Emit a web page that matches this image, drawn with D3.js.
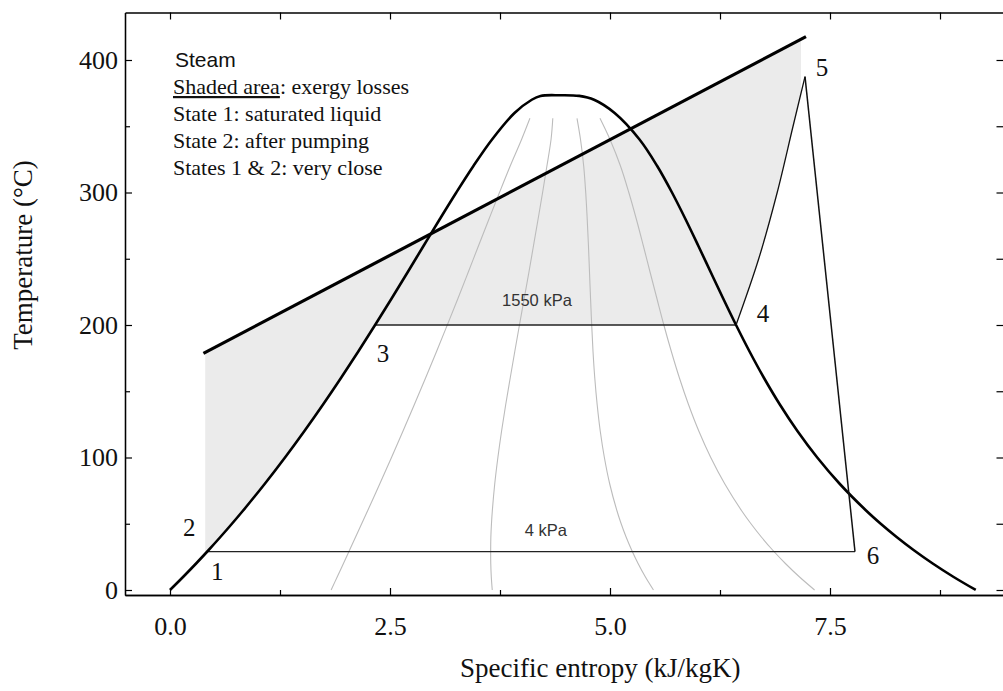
<!DOCTYPE html>
<html><head><meta charset="utf-8">
<script src="https://cdn.jsdelivr.net/npm/d3@7"></script>
<style>
html,body{margin:0;padding:0;background:#fff;}
svg{display:block;}
</style></head><body>
<svg id="chart" width="1003" height="691"></svg>
<script>
// Saturation table of water: temperature (°C), entropy of liquid and vapour (kJ/kgK)
const satT       = [0.01, 10, 20, 30, 40, 50, 60, 80, 100, 120, 140, 160, 180, 200, 220, 240, 260, 280, 300, 320, 340, 360, 370];
const satLiquidS = [0, 0.151, 0.2966, 0.4369, 0.5724, 0.7038, 0.8313, 1.0753, 1.3069, 1.5276, 1.7391, 1.9427, 2.1396, 2.3305, 2.5182, 2.7020, 2.8838, 3.0668, 3.2534, 3.4480, 3.6594, 3.9147, 4.1106];
const satVaporS  = [9.1562, 8.9008, 8.6672, 8.4533, 8.2570, 8.0763, 7.9096, 7.6122, 7.3549, 7.1296, 6.9299, 6.7502, 6.5857, 6.4323, 6.2861, 6.1437, 6.0019, 5.8571, 5.7045, 5.5362, 5.3357, 5.0526, 4.8187];
// Flat top of the dome around the critical point
const domeTopS = [4.21, 4.43, 4.65];
const domeTopT = [372.9, 373.4, 372.9];

// Lines of constant quality inside the dome (x = 0.2, 0.4, 0.6, 0.8)
const qualityT   = [0.01, 10, 20, 30, 40, 50, 60, 80, 100, 120, 140, 160, 180, 200, 220, 240, 260, 280, 300, 320, 340, 356];
const quality20S = [1.831, 1.901, 1.971, 2.040, 2.109, 2.178, 2.247, 2.383, 2.517, 2.648, 2.777, 2.904, 3.029, 3.151, 3.272, 3.390, 3.507, 3.625, 3.744, 3.866, 3.995, 4.09];
const quality40S = [3.662, 3.651, 3.645, 3.644, 3.646, 3.653, 3.663, 3.690, 3.726, 3.768, 3.815, 3.866, 3.918, 3.971, 4.025, 4.079, 4.131, 4.183, 4.234, 4.283, 4.330, 4.35];
const quality60S = [5.494, 5.401, 5.319, 5.247, 5.183, 5.127, 5.078, 4.997, 4.936, 4.889, 4.854, 4.827, 4.807, 4.792, 4.779, 4.767, 4.755, 4.741, 4.724, 4.701, 4.665, 4.625];
const quality80S = [7.325, 7.151, 6.993, 6.850, 6.720, 6.602, 6.494, 6.305, 6.145, 6.009, 5.892, 5.789, 5.697, 5.612, 5.533, 5.455, 5.378, 5.299, 5.214, 5.119, 5.000, 4.886];

// Rankine cycle states
const stateNames = ["1", "2", "3", "4", "5", "6"];
const stateS = [0.4224, 0.40, 2.3305, 6.4323, 7.216, 7.784];
const stateT = [28.96, 29.5, 200, 200, 387.4, 28.96];

// Superheating at 1550 kPa (state 4 to state 5)
const superheatT = [200, 250, 300, 350, 387.4];
const superheatS = [6.4323, 6.69, 6.90, 7.08, 7.216];

// Heat source (hot gas) temperature line
const sourceS = [0.38, 7.227];
const sourceT = [178.6, 417.6];

// Left and right edges of the shaded exergy-loss area
const shadeEdgeS = [0.40, 7.17];

// Pressure labels
const pressureLabels = ["1550 kPa", "4 kPa"];
const pressureLabelS = [4.17, 4.27];
const pressureLabelT = [200, 28.96];

// Axis ticks
const xTicks = [0, 2.5, 5, 7.5];
const xMinorTicks = [1.25, 3.75, 6.25, 8.75];
const yTicks = [0, 100, 200, 300, 400];
const yMinorTicks = [50, 150, 250, 350];

const noteTitle = "Steam";
const noteLines = ["State 1: saturated liquid", "State 2: after pumping", "States 1 & 2: very close"];

const svg = d3.select("#chart");
const L = 125, R = 1003.5, T = 12.5, B = 595;

const x = d3.scaleLinear().domain([-0.5114, 9.4716]).range([L, R]);
const y = d3.scaleLinear().domain([-3.774, 435.85]).range([B, T]);

const line = d3.line().x(d => x(d[0])).y(d => y(d[1]));
const serif = "'Liberation Serif', 'Times New Roman', serif";
const sans = "'Liberation Sans', Arial, sans-serif";

// --- shaded exergy-loss area
const hotAt = d3.scaleLinear().domain(sourceS).range(sourceT);
const superAt = d3.scaleLinear().domain(superheatS).range(superheatT);
const shade = [];
shade.push([shadeEdgeS[0], hotAt(shadeEdgeS[0])]);
shade.push([shadeEdgeS[1], hotAt(shadeEdgeS[1])]);
shade.push([shadeEdgeS[1], superAt(shadeEdgeS[1])]);
for (let i = superheatS.length - 1; i >= 0; i--) {
  if (superheatS[i] < shadeEdgeS[1]) shade.push([superheatS[i], superheatT[i]]);
}
shade.push([stateS[2], stateT[2]]);
for (let i = satT.length - 1; i >= 0; i--) {
  if (satT[i] < stateT[2] && satT[i] > stateT[0]) shade.push([satLiquidS[i], satT[i]]);
}
shade.push([stateS[0], stateT[0]]);
shade.push([stateS[1], stateT[1]]);
svg.append("path").attr("d", line(shade) + "Z").attr("fill", "#ebebeb").attr("stroke", "none");

// --- quality lines
const smooth = d3.line().x(d => x(d[0])).y(d => y(d[1])).curve(d3.curveCatmullRom);
[quality20S, quality40S, quality60S, quality80S].forEach(q => {
  svg.append("path")
    .attr("d", smooth(q.map((s, i) => [s, qualityT[i]])))
    .attr("fill", "none").attr("stroke", "#bcbcbc").attr("stroke-width", 1.1);
});

// --- isobars inside the dome
svg.append("path").attr("d", line([[stateS[2], stateT[2]], [stateS[3], stateT[3]]]))
  .attr("stroke", "#222").attr("stroke-width", 1.3).attr("fill", "none");
svg.append("path").attr("d", line([[stateS[0], stateT[0]], [stateS[5], stateT[5]]]))
  .attr("stroke", "#222").attr("stroke-width", 1.3).attr("fill", "none");

// --- saturation dome
const dome = satT.map((t, i) => [satLiquidS[i], t]);
domeTopS.forEach((s, i) => dome.push([s, domeTopT[i]]));
for (let i = satT.length - 1; i >= 0; i--) dome.push([satVaporS[i], satT[i]]);
svg.append("path").attr("d", d3.line().x(d => x(d[0])).y(d => y(d[1])).curve(d3.curveCatmullRom.alpha(0.5))(dome))
  .attr("fill", "none").attr("stroke", "#000").attr("stroke-width", 2.6);

// --- heat source line
svg.append("path").attr("d", line(sourceS.map((s, i) => [s, sourceT[i]])))
  .attr("fill", "none").attr("stroke", "#000").attr("stroke-width", 3.2);

// --- superheating 4 -> 5
svg.append("path")
  .attr("d", smooth(superheatS.map((s, i) => [s, superheatT[i]])))
  .attr("fill", "none").attr("stroke", "#111").attr("stroke-width", 1.3);

// --- expansion 5 -> 6
svg.append("path").attr("d", line([[stateS[4], stateT[4]], [stateS[5], stateT[5]]]))
  .attr("fill", "none").attr("stroke", "#111").attr("stroke-width", 1.5);

// --- pressure labels
svg.selectAll("text.press").data(pressureLabels).join("text")
  .attr("class", "press")
  .attr("x", (d, i) => x(pressureLabelS[i]))
  .attr("y", (d, i) => y(pressureLabelT[i]) - (i === 0 ? 19 : 16))
  .attr("text-anchor", "middle")
  .attr("font-family", sans).attr("font-size", 16.5).attr("fill", "#333")
  .text(d => d);

// --- state numbers
const labelOffsets = [[10, 20], [-16, -23], [8, 28], [27, -12], [17, -9], [18, 4]];
svg.selectAll("text.state").data(stateNames).join("text")
  .attr("class", "state")
  .attr("x", (d, i) => x(stateS[i]) + labelOffsets[i][0])
  .attr("y", (d, i) => y(stateT[i]) + labelOffsets[i][1] + 8.5)
  .attr("text-anchor", "middle")
  .attr("font-family", serif).attr("font-size", 25).attr("fill", "#111")
  .text(d => d);

// --- note block
svg.append("text").attr("x", 175).attr("y", 67)
  .attr("font-family", sans).attr("font-size", 21).attr("fill", "#111").text(noteTitle);
const t2 = svg.append("text").attr("x", 173).attr("y", 94)
  .attr("font-family", serif).attr("font-size", 22).attr("fill", "#111");
t2.append("tspan").attr("text-decoration", "underline").text("Shaded area");
t2.append("tspan").text(": exergy losses");
noteLines.forEach((s, i) => {
  svg.append("text").attr("x", 173).attr("y", 121 + i * 27)
    .attr("font-family", serif).attr("font-size", 22).attr("fill", "#111").text(s);
});

// --- axes (ticks pointing inward, frame all round)
function styleAxis(g, labels) {
  g.select(".domain").attr("stroke", "#000").attr("stroke-width", 1.3);
  g.selectAll(".tick line").attr("stroke", "#000").attr("stroke-width", 1.2);
  g.selectAll(".tick text").attr("font-family", serif).attr("font-size", 26).attr("fill", "#111");
  if (!labels) g.selectAll(".tick text").remove();
}
svg.append("g").attr("transform", `translate(0,${B})`)
  .call(d3.axisBottom(x).tickValues(xTicks).tickSize(-7).tickSizeOuter(0).tickPadding(22).tickFormat(d3.format(".1f")))
  .call(g => styleAxis(g, true));
svg.append("g").attr("transform", `translate(0,${B})`)
  .call(d3.axisBottom(x).tickValues(xMinorTicks).tickSize(-5).tickSizeOuter(0))
  .call(g => styleAxis(g, false));
svg.append("g").attr("transform", `translate(0,${T})`)
  .call(d3.axisTop(x).tickValues(xTicks.concat(xMinorTicks)).tickSize(-7).tickSizeOuter(0))
  .call(g => styleAxis(g, false));
svg.append("g").attr("transform", `translate(${L},0)`)
  .call(d3.axisLeft(y).tickValues(yTicks).tickSize(-7).tickSizeOuter(0).tickPadding(7).tickFormat(d3.format("d")))
  .call(g => styleAxis(g, true));
svg.append("g").attr("transform", `translate(${L},0)`)
  .call(d3.axisLeft(y).tickValues(yMinorTicks).tickSize(-5).tickSizeOuter(0))
  .call(g => styleAxis(g, false));
svg.append("g").attr("transform", `translate(${R},0)`)
  .call(d3.axisRight(y).tickValues(yTicks.concat(yMinorTicks)).tickSize(-7).tickSizeOuter(0))
  .call(g => styleAxis(g, false));

// --- axis titles
svg.append("text").attr("x", (L + R) / 2 + 36).attr("y", 677)
  .attr("text-anchor", "middle").attr("font-family", serif).attr("font-size", 27).attr("fill", "#111")
  .text("Specific entropy (kJ/kgK)");
svg.append("text").attr("transform", `translate(32,255) rotate(-90)`)
  .attr("text-anchor", "middle").attr("font-family", serif).attr("font-size", 27).attr("fill", "#111")
  .text("Temperature (°C)");
</script>
</body></html>
